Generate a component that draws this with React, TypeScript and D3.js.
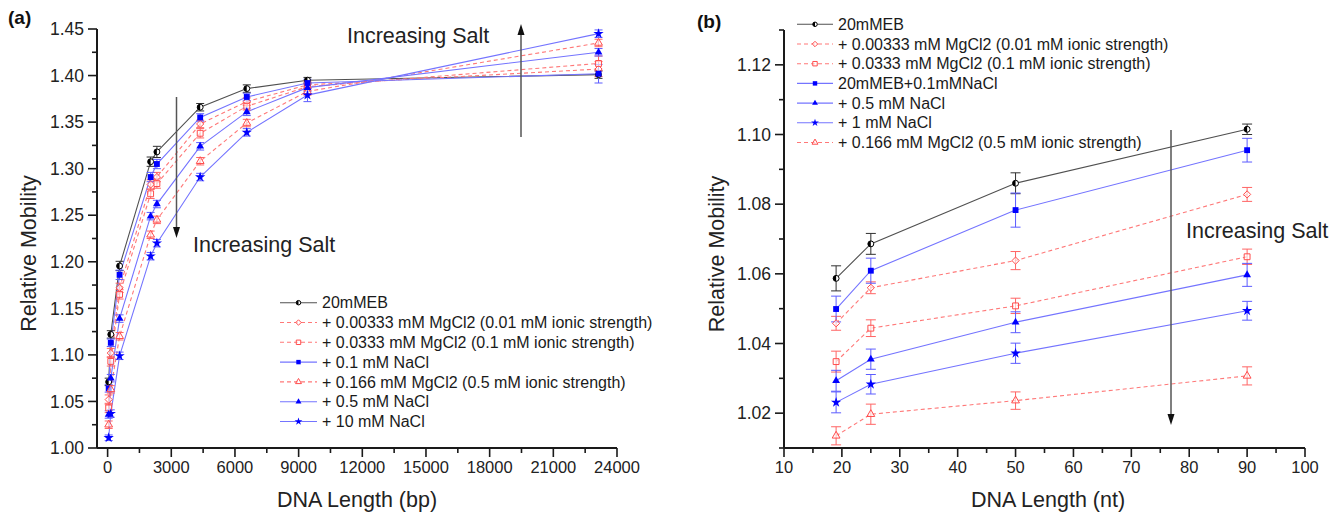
import React from 'react';
import * as d3 from 'd3';

const FONT = '"Liberation Sans", Arial, Helvetica, sans-serif';

// ---- panel (a): DNA ladder, relative mobility vs length (bp)
const lengthsA = [50, 150, 564, 2027, 2322, 4361, 6557, 9416, 23130];

const aEB = [1.071, 1.122, 1.1955, 1.3075, 1.318, 1.366, 1.386, 1.395, 1.401];
const aEBErr = [0.004, 0.004, 0.005, 0.005, 0.006, 0.004, 0.004, 0.003, 0.004];
const aMg00333 = [1.052, 1.102, 1.172, 1.283, 1.291, 1.348, 1.372, 1.39, 1.407];
const aMg00333Err = [0.005, 0.005, 0.005, 0.005, 0.005, 0.004, 0.004, 0.004, 0.008];
const aMg0333 = [1.043, 1.093, 1.165, 1.273, 1.284, 1.338, 1.367, 1.388, 1.413];
const aMg0333Err = [0.005, 0.005, 0.005, 0.005, 0.005, 0.005, 0.004, 0.004, 0.008];
const aNa01 = [1.064, 1.113, 1.186, 1.291, 1.305, 1.355, 1.377, 1.392, 1.402];
const aNa01Err = [0.004, 0.004, 0.005, 0.005, 0.005, 0.004, 0.004, 0.004, 0.01];
const aMg0166 = [1.025, 1.063, 1.12, 1.229, 1.245, 1.308, 1.349, 1.383, 1.435];
const aMg0166Err = [0.004, 0.004, 0.004, 0.004, 0.004, 0.004, 0.004, 0.004, 0.004];
const aNa05 = [1.036, 1.075, 1.139, 1.249, 1.262, 1.324, 1.361, 1.387, 1.425];
const aNa05Err = [0.004, 0.004, 0.004, 0.004, 0.004, 0.004, 0.004, 0.004, 0.004];
const aNa10 = [1.011, 1.037, 1.099, 1.206, 1.22, 1.291, 1.339, 1.379, 1.445];
const aNa10Err = [0.003, 0.004, 0.004, 0.004, 0.004, 0.004, 0.004, 0.007, 0.004];

const xTicksA = [0, 3000, 6000, 9000, 12000, 15000, 18000, 21000, 24000];
const yTicksA = [1.0, 1.05, 1.1, 1.15, 1.2, 1.25, 1.3, 1.35, 1.4, 1.45];

// ---- panel (b): oligos, relative mobility vs length (nt)
const lengthsB = [19, 25, 50, 90];

const bEB = [1.0587, 1.0686, 1.086, 1.1015];
const bEBErr = [0.0036, 0.003, 0.003, 0.0015];
const bMg00333 = [1.0458, 1.056, 1.0638, 1.0828];
const bMg00333Err = [0.002, 0.0017, 0.0026, 0.002];
const bMg0333 = [1.0348, 1.0444, 1.0508, 1.0649];
const bMg0333Err = [0.003, 0.0024, 0.0022, 0.0022];
const bNa01 = [1.0499, 1.0609, 1.0783, 1.0955];
const bNa01Err = [0.0037, 0.0036, 0.0049, 0.0034];
const bNa05 = [1.0293, 1.0355, 1.0461, 1.0597];
const bNa05Err = [0.003, 0.0029, 0.003, 0.0033];
const bNa1 = [1.0231, 1.0283, 1.0372, 1.0494];
const bNa1Err = [0.003, 0.0028, 0.0029, 0.0027];
const bMg0166 = [1.0135, 1.0197, 1.0236, 1.0307];
const bMg0166Err = [0.0026, 0.0029, 0.0025, 0.0026];

const xTicksB = [10, 20, 30, 40, 50, 60, 70, 80, 90, 100];
const yTicksB = [1.02, 1.04, 1.06, 1.08, 1.1, 1.12];

type Marker = 'half' | 'diamond' | 'squareOpen' | 'square' | 'triOpen' | 'tri' | 'star';
type Kind = 'black' | 'blue' | 'red';

interface Series {
  name: string;
  marker: Marker;
  kind: Kind;
  values: number[];
  errors: number[];
}

const seriesA: Series[] = [
  { name: '20mMEB', marker: 'half', kind: 'black', values: aEB, errors: aEBErr },
  { name: '+ 0.00333 mM MgCl2 (0.01 mM ionic strength)', marker: 'diamond', kind: 'red', values: aMg00333, errors: aMg00333Err },
  { name: '+ 0.0333 mM MgCl2 (0.1 mM ionic strength)', marker: 'squareOpen', kind: 'red', values: aMg0333, errors: aMg0333Err },
  { name: '+ 0.1 mM NaCl', marker: 'square', kind: 'blue', values: aNa01, errors: aNa01Err },
  { name: '+ 0.166 mM MgCl2 (0.5 mM ionic strength)', marker: 'triOpen', kind: 'red', values: aMg0166, errors: aMg0166Err },
  { name: '+ 0.5 mM NaCl', marker: 'tri', kind: 'blue', values: aNa05, errors: aNa05Err },
  { name: '+ 10 mM NaCl', marker: 'star', kind: 'blue', values: aNa10, errors: aNa10Err },
];

const seriesB: Series[] = [
  { name: '20mMEB', marker: 'half', kind: 'black', values: bEB, errors: bEBErr },
  { name: '+ 0.00333 mM MgCl2 (0.01 mM ionic strength)', marker: 'diamond', kind: 'red', values: bMg00333, errors: bMg00333Err },
  { name: '+ 0.0333 mM MgCl2 (0.1 mM ionic strength)', marker: 'squareOpen', kind: 'red', values: bMg0333, errors: bMg0333Err },
  { name: '20mMEB+0.1mMNaCl', marker: 'square', kind: 'blue', values: bNa01, errors: bNa01Err },
  { name: '+ 0.5 mM NaCl', marker: 'tri', kind: 'blue', values: bNa05, errors: bNa05Err },
  { name: '+ 1 mM NaCl', marker: 'star', kind: 'blue', values: bNa1, errors: bNa1Err },
  { name: '+ 0.166 mM MgCl2 (0.5 mM ionic strength)', marker: 'triOpen', kind: 'red', values: bMg0166, errors: bMg0166Err },
];

const STYLE: Record<Kind, { line: string; mark: string; err: string; dash?: string }> = {
  black: { line: '#505050', mark: '#000000', err: '#303030' },
  blue: { line: '#7474ff', mark: '#0000ff', err: '#5c5cff' },
  red: { line: '#ff7878', mark: '#ff4d4d', err: '#ff6464', dash: '4,3' },
};

const symbolPath = (m: Marker, size: number) => {
  const t =
    m === 'diamond' ? d3.symbolDiamond2 :
    m === 'squareOpen' || m === 'square' ? d3.symbolSquare2 :
    m === 'triOpen' || m === 'tri' ? d3.symbolTriangle2 :
    m === 'star' ? d3.symbolStar : d3.symbolCircle;
  return d3.symbol().type(t).size(size)() || '';
};

const MarkerShape = ({ m, kind, x, y, r }: { m: Marker; kind: Kind; x: number; y: number; r: number }) => {
  const st = STYLE[kind];
  if (m === 'half') {
    return (
      <g transform={`translate(${x},${y})`}>
        <circle r={r * 0.8} fill="#fff" stroke="#000" strokeWidth={1} />
        <path d={`M0,${-r * 0.8}A${r * 0.8},${r * 0.8} 0 0 0 0,${r * 0.8}Z`} fill="#000" />
      </g>
    );
  }
  const open = m === 'diamond' || m === 'squareOpen' || m === 'triOpen';
  const size = m === 'star' ? r * r * 2.4 : m === 'diamond' ? r * r * 2.4 : r * r * 3.2;
  if (open) {
    return (
      <path
        transform={`translate(${x},${y})`}
        d={symbolPath(m, size)}
        fill="#fff"
        fillOpacity={0.6}
        stroke={st.mark}
        strokeWidth={1}
      />
    );
  }
  return <path transform={`translate(${x},${y})`} d={symbolPath(m, size)} fill={st.mark} stroke="none" />;
};

interface PanelProps {
  xs: number[];
  series: Series[];
  xDomain: [number, number];
  xRange: [number, number];
  yDomain: [number, number];
  yRange: [number, number];
  xTicks: number[];
  xMinor: number[];
  yTicks: number[];
  yMinor: number[];
  yFmt: (v: number) => string;
  capW: number;
  legend: { x0: number; x1: number; tx: number; y0: number; dy: number };
  xTitle: string;
  titleX: number;
  yTitleX: number;
}

const Panel = (p: PanelProps) => {
  const x = d3.scaleLinear().domain(p.xDomain).range(p.xRange);
  const y = d3.scaleLinear().domain(p.yDomain).range(p.yRange);
  const line = d3.line<[number, number]>().x((d) => x(d[0])).y((d) => y(d[1]));
  const [x0, x1] = p.xRange;
  const [yb, yt] = p.yRange;
  const axisCol = '#1a1a1a';

  return (
    <g>
      {/* series lines */}
      {p.series.map((s) => (
        <path
          key={'l' + s.name}
          d={line(p.xs.map((v, i) => [v, s.values[i]] as [number, number])) || ''}
          fill="none"
          stroke={STYLE[s.kind].line}
          strokeWidth={1.1}
          strokeDasharray={STYLE[s.kind].dash}
        />
      ))}
      {/* error bars */}
      {p.series.map((s) =>
        p.xs.map((v, i) => {
          const cx = x(v);
          const ya = y(s.values[i] + s.errors[i]);
          const yb2 = y(s.values[i] - s.errors[i]);
          const c = STYLE[s.kind].err;
          return (
            <g key={'e' + s.name + i} stroke={c} strokeWidth={1}>
              <line x1={cx} x2={cx} y1={ya} y2={yb2} />
              <line x1={cx - p.capW / 2} x2={cx + p.capW / 2} y1={ya} y2={ya} />
              <line x1={cx - p.capW / 2} x2={cx + p.capW / 2} y1={yb2} y2={yb2} />
            </g>
          );
        })
      )}
      {/* markers */}
      {p.series.map((s) =>
        p.xs.map((v, i) => (
          <MarkerShape key={'m' + s.name + i} m={s.marker} kind={s.kind} x={x(v)} y={y(s.values[i])} r={3.7} />
        ))
      )}

      {/* axes */}
      <line x1={x0} x2={x1} y1={yb} y2={yb} stroke={axisCol} strokeWidth={2} />
      <line x1={x0} x2={x0} y1={yb} y2={yt} stroke={axisCol} strokeWidth={2} />
      {p.xTicks.map((t) => (
        <g key={'xt' + t}>
          <line x1={x(t)} x2={x(t)} y1={yb} y2={yb + 9} stroke={axisCol} strokeWidth={1.6} />
          <text x={x(t)} y={yb + 25} textAnchor="middle" fontSize={16.5} fontFamily={FONT} fill="#222">
            {t}
          </text>
        </g>
      ))}
      {p.xMinor.map((t) => (
        <line key={'xm' + t} x1={x(t)} x2={x(t)} y1={yb} y2={yb + 5} stroke={axisCol} strokeWidth={1.6} />
      ))}
      {p.yTicks.map((t) => (
        <g key={'yt' + t}>
          <line x1={x0 - 9} x2={x0} y1={y(t)} y2={y(t)} stroke={axisCol} strokeWidth={1.6} />
          <text x={x0 - 13} y={y(t) + 6.2} textAnchor="end" fontSize={17.5} fontFamily={FONT} fill="#222">
            {p.yFmt(t)}
          </text>
        </g>
      ))}
      {p.yMinor.map((t) => (
        <line key={'ym' + t} x1={x0 - 5} x2={x0} y1={y(t)} y2={y(t)} stroke={axisCol} strokeWidth={1.6} />
      ))}

      {/* axis titles */}
      <text x={p.titleX} y={507} textAnchor="middle" fontSize={21.5} fontFamily={FONT} fill="#222">
        {p.xTitle}
      </text>
      <text
        transform={`translate(${p.yTitleX},${(yb + yt) / 2 + 15}) rotate(-90)`}
        textAnchor="middle"
        fontSize={21.5}
        fontFamily={FONT}
        fill="#222"
      >
        Relative Mobility
      </text>

      {/* legend */}
      {p.series.map((s, i) => {
        const ly = p.legend.y0 + i * p.legend.dy;
        const st = STYLE[s.kind];
        return (
          <g key={'lg' + s.name}>
            <line x1={p.legend.x0} x2={p.legend.x1} y1={ly} y2={ly} stroke={st.line} strokeWidth={1.1} strokeDasharray={st.dash} />
            <MarkerShape m={s.marker} kind={s.kind} x={(p.legend.x0 + p.legend.x1) / 2} y={ly} r={2.8} />
            <text x={p.legend.tx} y={ly + 5.6} fontSize={16} fontFamily={FONT} fill="#1a1a1a">
              {s.name}
            </text>
          </g>
        );
      })}
    </g>
  );
};

const Arrow = ({ x, yFrom, yTo }: { x: number; yFrom: number; yTo: number }) => {
  const dir = yTo > yFrom ? 1 : -1;
  return (
    <g>
      <line x1={x} x2={x} y1={yFrom} y2={yTo - dir * 8} stroke="#555" strokeWidth={1.5} />
      <path d={`M${x},${yTo}L${x - 3.5},${yTo - dir * 11}L${x + 3.5},${yTo - dir * 11}Z`} fill="#111" />
    </g>
  );
};

const range = (a: number, b: number, step: number) => d3.range(a, b + step / 2, step);

export default function App() {
  return (
    <svg width={1331} height={514} style={{ position: 'absolute', left: 0, top: 0, background: '#fff' }}>
      <rect width={1331} height={514} fill="#fff" />
      <Panel
        xs={lengthsA}
        series={seriesA}
        xDomain={[-500, 24000]}
        xRange={[97, 617]}
        yDomain={[1.0, 1.45]}
        yRange={[448, 29]}
        xTicks={xTicksA}
        xMinor={range(1500, 22500, 3000)}
        yTicks={yTicksA}
        yMinor={range(1.025, 1.425, 0.05)}
        yFmt={(v) => v.toFixed(2)}
        capW={8}
        legend={{ x0: 280, x1: 317, tx: 322, y0: 302.7, dy: 19.8 }}
        xTitle="DNA Length (bp)"
        titleX={357}
        yTitleX={36}
      />
      <Panel
        xs={lengthsB}
        series={seriesB}
        xDomain={[10, 100]}
        xRange={[784, 1305]}
        yDomain={[1.01, 1.13]}
        yRange={[448, 30]}
        xTicks={xTicksB}
        xMinor={range(15, 95, 10)}
        yTicks={yTicksB}
        yMinor={range(1.01, 1.13, 0.02)}
        yFmt={(v) => v.toFixed(2)}
        capW={10}
        legend={{ x0: 797, x1: 833, tx: 838, y0: 24.3, dy: 19.7 }}
        xTitle="DNA Length (nt)"
        titleX={1048}
        yTitleX={724}
      />

      {/* annotations */}
      <Arrow x={176.5} yFrom={97} yTo={238} />
      <text x={193} y={252} fontSize={21.5} fontFamily={FONT} fill="#222">Increasing Salt</text>
      <Arrow x={521} yFrom={137} yTo={24} />
      <text x={347} y={43} fontSize={21.5} fontFamily={FONT} fill="#222">Increasing Salt</text>
      <Arrow x={1171} yFrom={130} yTo={425} />
      <text x={1186} y={238} fontSize={21.5} fontFamily={FONT} fill="#222">Increasing Salt</text>

      <text x={8} y={24} fontSize={19} fontWeight="bold" fontFamily={FONT} fill="#111">(a)</text>
      <text x={697} y={28} fontSize={19} fontWeight="bold" fontFamily={FONT} fill="#111">(b)</text>
    </svg>
  );
}
